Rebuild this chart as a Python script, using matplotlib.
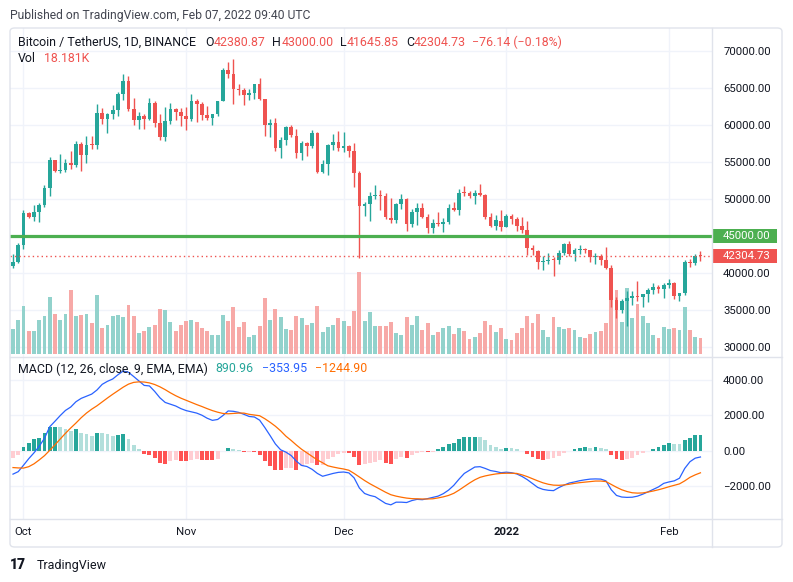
import numpy as np
import matplotlib
matplotlib.use("Agg")
import matplotlib.pyplot as plt
import matplotlib.transforms as mtransforms
from matplotlib.patches import Rectangle, FancyBboxPatch
from matplotlib.lines import Line2D

plt.rcParams['font.family'] = ['Roboto', 'DejaVu Sans']

# ---- daily candles, Sep 29 2021 -> Feb 07 2022 (BTCUSDT, Binance) ----
opens = [41025, 41522, 43790, 48165, 47657, 48233, 49244, 51486, 55338, 53802,
         53930, 54952, 54683, 57485, 56005, 57372, 57345, 61673, 60876, 61528,
         62005, 64280, 66001, 62193, 60689, 61286, 60853, 63079, 60329, 58414,
         60576, 62253, 61859, 61300, 60911, 63220, 62896, 61396, 60940, 61471,
         63274, 67525, 66947, 64883, 64775, 64122, 64381, 65519, 63606, 60059,
         60345, 56891, 58057, 59707, 58617, 56247, 57542, 57138, 58960, 53723,
         54717, 57274, 57777, 56951, 57185, 56485, 53602, 49152, 49397, 50441,
         50589, 50471, 47535, 47140, 49389, 50054, 46702, 48336, 48864, 47633,
         46134, 46834, 46682, 46908, 48887, 48588, 50838, 50819, 50428, 50803,
         50640, 47588, 46444, 47120, 46216, 47722, 47287, 46446, 45833, 43431,
         43081, 41566, 41679, 41864, 41822, 42736, 43950, 42592, 43099, 43173,
         43119, 42250, 42374, 41744, 40700, 36445, 35071, 36244, 36660, 36958,
         36807, 37161, 37716, 38166, 37882, 38466, 38694, 36897, 37311, 41571,
         41382, 42380.87]
highs = [42590, 44132, 48495, 48336, 49228, 49531, 51886, 55750, 55338, 56100,
         55489, 56561, 57839, 57680, 58532, 58520, 62933, 62325, 61720, 62695,
         64486, 67000, 66639, 63732, 61747, 61500, 63711, 63293, 61497, 62499,
         62980, 62359, 62405, 62437, 64270, 63500, 63086, 62595, 61560, 63286,
         67789, 68524, 69000, 65600, 65000, 64971, 65550, 66401, 63617, 60823,
         60977, 58372, 59846, 60029, 59444, 57875, 57700, 59398, 59150, 55280,
         57445, 58865, 59176, 59053, 57375, 57600, 53859, 49699, 50939, 51936,
         51200, 50797, 50125, 49485, 50777, 50189, 48700, 49500, 49436, 47995,
         47392, 48300, 47537, 49328, 49576, 51375, 51810, 51156, 51281, 52089,
         50704, 48119, 47900, 48548, 47954, 47990, 47570, 47557, 47070, 43816,
         43146, 42300, 42786, 42248, 43100, 44135, 44350, 43448, 43800, 43476,
         43180, 42690, 42574, 43500, 41100, 36836, 36500, 37550, 37545, 38919,
         37234, 38000, 38720, 38359, 38744, 39265, 38855, 37387, 41772, 41913,
         42656, 43000.00]
lows = [40753, 41410, 43283, 47430, 47046, 46891, 49022, 50382, 53657, 53617,
        53661, 54080, 54415, 53879, 54870, 56818, 56850, 60150, 58963, 60846,
        61322, 63482, 62000, 60000, 59562, 59510, 60650, 59817, 58000, 57820,
        60174, 60673, 59945, 59405, 60624, 60382, 60677, 60721, 60050, 61322,
        63273, 66382, 62822, 64100, 62788, 63400, 63576, 63400, 58574, 58373,
        56474, 55600, 57353, 58486, 55610, 55317, 55837, 57000, 53500, 53610,
        53256, 56666, 56476, 56458, 55777, 51680, 42000, 47727, 47100, 50039,
        48600, 47320, 46852, 46751, 48638, 45672, 46290, 46547, 47511, 45456,
        45500, 46406, 45558, 46630, 48421, 47921, 50384, 50199, 49412, 50459,
        47313, 46201, 45900, 45678, 46208, 46654, 45696, 45500, 42500, 42430,
        40610, 40501, 41200, 39650, 41268, 42450, 42311, 41725, 42600, 42693,
        41540, 41250, 41138, 40553, 35440, 34008, 34601, 32917, 35701, 36234,
        35507, 36155, 37268, 37351, 36632, 38000, 36586, 36250, 37026, 40843,
        41116, 41645.85]
closes = [41522, 43790, 48165, 47657, 48233, 49245, 51494, 55339, 53798, 53964,
          54962, 54690, 57485, 56006, 57368, 57347, 61672, 60875, 61528, 62010,
          64280, 66001, 62194, 60688, 61286, 60852, 63078, 60329, 58413, 60575,
          62253, 61859, 61300, 60911, 63219, 62896, 61395, 60937, 61470, 63273,
          67525, 66947, 64882, 64774, 64122, 64380, 65519, 63606, 60058, 60345,
          56891, 58052, 59707, 58622, 56247, 57541, 57138, 58960, 53726, 54721,
          57274, 57776, 56950, 57184, 56480, 53601, 49152, 49396, 50441, 50588,
          50471, 47545, 47140, 49389, 50053, 46702, 48343, 48864, 47632, 46131,
          46834, 46681, 46914, 48889, 48588, 50838, 50821, 50428, 50809, 50640,
          47588, 46444, 47178, 46216, 47722, 47287, 46446, 45833, 43432, 43082,
          41566, 41680, 41864, 41822, 42736, 43950, 42592, 43099, 43177, 43114,
          42250, 42375, 41744, 40680, 36445, 35071, 36244, 36660, 36958, 36810,
          37160, 37716, 38166, 37882, 38466, 38694, 36896, 37311, 41574, 41382,
          42380, 42304.73]
# volume in thousands of BTC
volumes = [28, 39, 55, 26, 26, 39, 43, 65, 46, 39, 46, 73, 43, 44, 46, 35, 67, 30, 33, 43,
           44, 42, 56, 43, 24, 26, 31, 33, 51, 50, 36, 26, 33, 38, 39, 36, 30, 26, 22, 22,
           44, 38, 54, 31, 36, 19, 22, 32, 64, 39, 51, 42, 28, 27, 43, 41, 33, 35, 55, 25,
           31, 33, 41, 38, 32, 49, 93, 38, 48, 32, 32, 32, 36, 24, 22, 42, 33, 43, 27, 35,
           22, 25, 30, 32, 23, 30, 26, 17, 19, 24, 38, 33, 25, 30, 17, 16, 24, 30, 43, 35,
           46, 27, 19, 42, 31, 28, 30, 27, 19, 18, 23, 25, 26, 35, 74, 73, 36, 75, 41, 57,
           43, 35, 22, 18, 31, 28, 30, 27, 54, 27, 19, 18.181]

# ---- MACD (12, 26, 9) ----
macd = [-1320, -1180, -820, -450, -120, 250, 700, 1350, 1660, 1980,
        2270, 2460, 2760, 2950, 3070, 3190, 3420, 3740, 3910, 4040,
        4280, 4490, 4420, 4180, 3930, 3680, 3650, 3340, 2980, 2720,
        2620, 2520, 2370, 2260, 2190, 2120, 2000, 1830, 1710, 1760,
        1980, 2240, 2220, 2160, 2050, 1930, 1900, 1720, 1300, 850,
        380, 50, -80, -270, -590, -830, -890, -1050, -1280, -1440,
        -1360, -1280, -1220, -1200, -1250, -1530, -2100, -2410, -2520, -2590,
        -2780, -2970, -3050, -2900, -2900, -2920, -2810, -2740, -2760, -2700,
        -2630, -2560, -2420, -2220, -1950, -1600, -1280, -1100, -920, -900,
        -1000, -1120, -1170, -1240, -1210, -1240, -1310, -1450, -1630, -1850,
        -2070, -2180, -2230, -2250, -2080, -1940, -1820, -1760, -1690, -1640,
        -1600, -1590, -1600, -1700, -2200, -2520, -2610, -2630, -2620, -2560,
        -2450, -2320, -2180, -2040, -1840, -1760, -1700, -1550, -1000, -620,
        -420, -353.95]
signal = [-950, -970, -980, -900, -740, -520, -280, 20, 330, 660,
          980, 1280, 1560, 1860, 2120, 2340, 2530, 2750, 2970, 3180,
          3380, 3580, 3750, 3850, 3880, 3870, 3820, 3730, 3600, 3440,
          3260, 3100, 2960, 2840, 2720, 2600, 2490, 2370, 2260, 2170,
          2100, 2080, 2100, 2120, 2120, 2050, 2010, 1970, 1800, 1600,
          1380, 1120, 820, 580, 320, 80, -120, -320, -520, -680,
          -850, -920, -980, -1030, -1100, -1280, -1480, -1680, -1860, -2020,
          -2180, -2340, -2480, -2560, -2620, -2670, -2700, -2710, -2720, -2720,
          -2710, -2660, -2600, -2520, -2400, -2220, -2020, -1820, -1640, -1500,
          -1420, -1360, -1310, -1280, -1270, -1270, -1280, -1360, -1460, -1580,
          -1700, -1810, -1890, -1940, -1950, -1930, -1890, -1840, -1800, -1770,
          -1740, -1710, -1710, -1740, -1900, -2060, -2200, -2300, -2370, -2390,
          -2380, -2330, -2270, -2200, -2120, -2030, -1950, -1870, -1700, -1500,
          -1360, -1244.90]
hist = [-400, -270, 230, 450, 640, 740, 1020, 1320, 1340, 1310,
        1250, 1120, 1210, 1020, 930, 830, 980, 970, 930, 830,
        890, 930, 640, 300, 80, -210, -220, -400, -720, -730,
        -560, -550, -590, -600, -500, -460, -500, -530, -540, -460,
        -40, 180, 100, 30, -90, -60, -100, -250, -590, -870,
        -1060, -1100, -970, -960, -1060, -870, -740, -680, -830, -810,
        -490, -340, -170, -110, -150, -340, -780, -770, -680, -640,
        -530, -720, -730, -490, -340, -400, -270, -150, -80, -100,
        -60, 80, 210, 360, 450, 680, 780, 790, 800, 780,
        600, 300, 230, 110, 150, 130, 80, -40, -210, -340,
        -490, -500, -450, -400, -300, -110, -40, 80, 150, 190,
        170, 190, 180, 80, -270, -450, -530, -450, -400, -270,
        -150, -40, 110, 230, 300, 420, 360, 350, 590, 740,
        870, 890.96]

month_days = [2, 33, 63, 94, 125]
month_labels = ['Oct', 'Nov', 'Dec', '2022', 'Feb']
price_ticks = [30000, 35000, 40000, 45000, 50000, 55000, 60000, 65000, 70000]
macd_ticks = [-2000, 0, 2000, 4000]

UP, DOWN = '#26a69a', '#ef5350'
TEXT = '#131722'
GRID = '#f0f3fa'
BORDER = '#e0e3eb'

W, H = 793, 582
fig = plt.figure(figsize=(W / 100, H / 100), dpi=100)


def fx(px):
    return px / W


def fy(py):
    return 1 - py / H


ax = fig.add_axes([fx(10), fy(357), fx(712) - fx(10), fy(28) - fy(357)])
axm = fig.add_axes([fx(10), fy(519), fx(712) - fx(10), fy(357) - fy(519)], sharex=ax)

days = np.arange(len(closes))
o, h, l, c = map(np.array, (opens, highs, lows, closes))
up = c >= o
ccol = np.where(up, UP, DOWN)

# volume overlay at the bottom of the price pane
vtrans = mtransforms.blended_transform_factory(ax.transData, ax.transAxes)
vcol = np.where(up, '#92d2cc', '#f7a9a7')
ax.bar(days, np.array(volumes) / 375.0, bottom=3 / 329, width=0.74,
       color=vcol, transform=vtrans, zorder=1)

# candles
ax.vlines(days, l, h, colors=ccol, linewidth=1, zorder=3)
ax.bar(days, np.maximum(np.abs(c - o), 130), bottom=np.minimum(o, c),
       width=0.7, color=ccol, zorder=4)

ax.axhline(45000, color='#4caf50', lw=2.3, zorder=5)
ax.axhline(closes[-1], color=DOWN, lw=1, ls=(0, (1, 2.2)), zorder=5)

ax.set_xlim(-0.57, 133.2)
ax.set_ylim(28689, 73149)
ax.set_xticks(month_days)
ax.set_yticks(price_ticks)
ax.set_yticklabels([f'{v:.2f}' for v in price_ticks])
ax.yaxis.tick_right()
ax.tick_params(axis='y', length=0, pad=8, labelsize=8.2, labelcolor=TEXT)
ax.tick_params(axis='x', length=0, labelbottom=False)
ax.grid(True, color=GRID, lw=1)
ax.set_axisbelow(True)

# right-axis price labels
lbl_trans = mtransforms.blended_transform_factory(ax.transAxes, ax.transData)
for val, col in [(45000, '#4caf50'), (closes[-1], DOWN)]:
    half = 7 / 7.4 * 1000
    ax.add_patch(Rectangle((1.0015, val - half), 0.091, 2 * half, transform=lbl_trans,
                           facecolor=col, edgecolor='none', clip_on=False, zorder=10))
    ax.text(1.0157, val, f'{val:.2f}', transform=lbl_trans,
            color='white', fontsize=8.2, va='center', ha='left', zorder=11, clip_on=False)

# MACD pane
hcol = []
for i, v in enumerate(hist):
    prev = hist[i - 1] if i > 0 else v
    if v >= 0:
        hcol.append('#26a69a' if v > prev else '#b2dfdb')
    else:
        hcol.append('#ff5252' if v < prev else '#ffcdd2')
axm.bar(days, hist, width=0.74, color=hcol, zorder=2)
axm.plot(days, macd, color='#2962ff', lw=0.9, zorder=3)
axm.plot(days, signal, color='#ff6d00', lw=0.9, zorder=3)
axm.set_ylim(-3848, 5280)
axm.set_yticks(macd_ticks)
axm.set_yticklabels([f'{v:.2f}'.replace('-', '\u2212') for v in macd_ticks])
axm.yaxis.tick_right()
axm.tick_params(axis='y', length=0, pad=8, labelsize=8.2, labelcolor=TEXT)
axm.set_xticks(month_days)
axm.set_xticklabels(month_labels)
axm.tick_params(axis='x', length=0, pad=6, labelsize=8.2, labelcolor=TEXT)
for lbl in axm.get_xticklabels():
    if lbl.get_text() == '2022':
        lbl.set_fontweight('bold')
axm.grid(True, color=GRID, lw=1)
axm.set_axisbelow(True)

for a in (ax, axm):
    for s in a.spines.values():
        s.set_visible(False)

# frame lines
fig.add_artist(FancyBboxPatch((fx(10), fy(547)), fx(782) - fx(10), fy(28) - fy(547),
                              boxstyle='round,pad=0,rounding_size=0.006', transform=fig.transFigure,
                              facecolor='none', edgecolor=BORDER, lw=1))
for y in (357, 519):
    fig.add_artist(Line2D([fx(10), fx(782)], [fy(y), fy(y)], color=BORDER, lw=1))
fig.add_artist(Line2D([fx(712), fx(712)], [fy(28), fy(547)], color=BORDER, lw=1))

# texts
renderer = fig.canvas.get_renderer()


def chain(x, y, parts, size):
    for s, col, gap in parts:
        t = fig.text(fx(x), fy(y), s, color=col, fontsize=size, ha='left', va='center')
        x = t.get_window_extent(renderer=renderer).x1 + gap


fig.text(fx(10), fy(15), 'Published on TradingView.com, Feb 07, 2022 09:40 UTC',
         color='#434651', fontsize=8.7, ha='left', va='center')
chain(18, 42, [('Bitcoin / TetherUS, 1D, BINANCE', TEXT, 9),
               ('O', TEXT, 0), ('42380.87', DOWN, 7),
               ('H', TEXT, 0), ('43000.00', DOWN, 7),
               ('L', TEXT, 0), ('41645.85', DOWN, 7),
               ('C', TEXT, 0), ('42304.73', DOWN, 6),
               ('\u221276.14 (\u22120.18%)', DOWN, 0)], 8.9)
chain(18, 58, [('Vol', TEXT, 8), ('18.181K', DOWN, 0)], 8.9)
chain(18, 369, [('MACD (12, 26, close, 9, EMA, EMA)', TEXT, 8),
                ('890.96', UP, 8), ('\u2212353.95', '#2962ff', 8),
                ('\u22121244.90', '#ff6d00', 0)], 8.9)

fig.text(fx(10), fy(565), '17', color='#131722', fontsize=10, fontweight='heavy',
         ha='left', va='center')
fig.text(fx(37), fy(565), 'TradingView', color='#131722', fontsize=9, ha='left', va='center')

fig.savefig('out.png', dpi=100, facecolor='white')
